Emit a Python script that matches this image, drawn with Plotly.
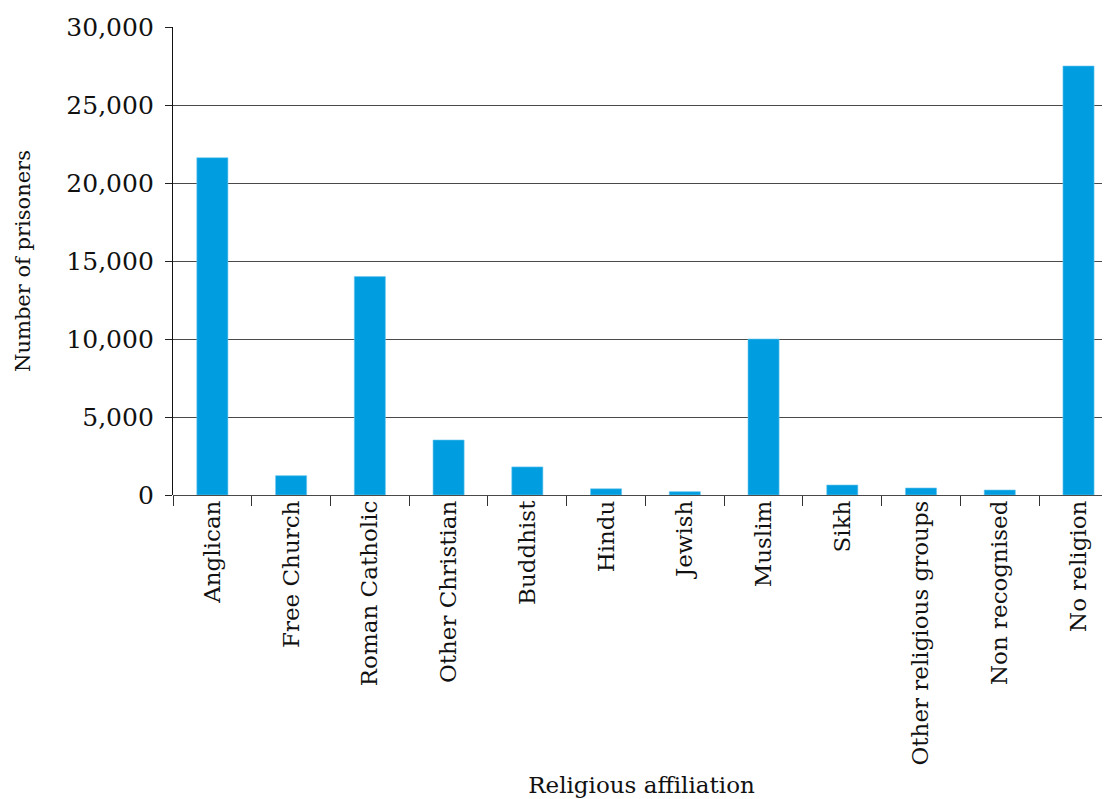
import plotly.graph_objects as go

categories = ["Anglican", "Free Church", "Roman Catholic", "Other Christian", "Buddhist",
              "Hindu", "Jewish", "Muslim", "Sikh", "Other religious groups",
              "Non recognised", "No religion"]
prisoners = [21620, 1240, 14000, 3525, 1800, 400, 215, 10000, 640, 450, 320, 27500]
y_ticks = [0, 5000, 10000, 15000, 20000, 25000, 30000]
y_tick_labels = ["0", "5,000", "10,000", "15,000", "20,000", "25,000", "30,000"]

FONT = "DejaVu Serif"
TXT = "#111111"

fig = go.Figure(go.Bar(
    x=categories, y=prisoners,
    marker=dict(color="#009EE0", line=dict(color="#6CC6EE", width=0.6)),
    width=0.395,
))

# page body has an 8px margin, so the figure is sized/offset to compensate
fig.update_layout(
    width=1102, height=791,
    margin=dict(l=165, r=0, t=19, b=304, autoexpand=False),
    paper_bgcolor="white", plot_bgcolor="white",
    font=dict(family=FONT, color=TXT),
    showlegend=False,
)

fig.update_xaxes(
    type="category",
    range=[-0.5, 11.4],
    tickangle=-90,
    tickfont=dict(family=FONT, size=23, color=TXT),
    ticks="outside", ticklen=10, tickcolor="#333", tickwidth=1,
    tickson="boundaries",
    showline=False, showgrid=False, zeroline=False,
    title=dict(text="Religious affiliation", font=dict(family=FONT, size=23, color=TXT), standoff=12),
)

fig.update_yaxes(
    range=[0, 30000],
    tickvals=y_ticks, ticktext=y_tick_labels,
    tickfont=dict(family=FONT, size=25, color=TXT),
    ticks="outside", ticklen=7, tickcolor="#222", tickwidth=1,
    ticklabelstandoff=6,
    showline=True, linecolor="#111", linewidth=1.3,
    showgrid=True, gridcolor="#4a4a4a", gridwidth=1.4,
    zeroline=True, zerolinecolor="#4a4a4a", zerolinewidth=1.4,
    title=dict(text="Number of prisoners", font=dict(family=FONT, size=21, color=TXT), standoff=30),
)

fig.write_html("out.html")
